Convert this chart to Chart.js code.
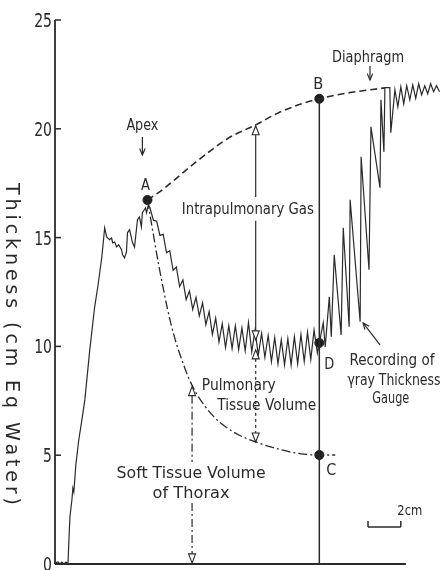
<!DOCTYPE html>
<html lang="en">
<head>
<meta charset="UTF-8">
<title>Thickness</title>
<script src="https://cdn.jsdelivr.net/npm/chart.js"></script>
<style>
  html, body { margin: 0; padding: 0; background: #fff; }
</style>
</head>
<body>
<canvas id="grafico" width="445" height="570"></canvas>
<script>
// x em cm ao longo do torax, y = espessura (cm Eq Water)
var yTicks = [0, 5, 10, 15, 20, 25];

// registro do medidor de espessura (raio gama)
var traceX = [0, 0.18, 0.30, 0.42, 0.55, 0.67, 0.79, 0.85, 0.91, 1.03, 1.09, 1.15, 1.27, 1.45, 1.64, 1.82, 2.12, 2.42, 2.61, 2.85, 3.03,
  3.15, 3.33, 3.45, 3.52, 3.64, 3.76, 3.88, 4.06, 4.12, 4.24, 4.36, 4.42, 4.55, 4.73, 4.85, 5.03, 5.15, 5.27, 5.33, 5.52, 5.58, 5.70,
  5.8, 6.0, 6.2, 6.4, 6.6, 6.8, 7.0, 7.2, 7.4, 7.6, 7.8, 8.0, 8.2, 8.4, 8.6, 8.8, 9.0, 9.2, 9.4, 9.6, 9.8, 10.0,
  10.2, 10.4, 10.6, 10.8, 11.0, 11.2, 11.4, 11.6, 11.8, 12.0, 12.2, 12.4, 12.6, 12.8, 13.0, 13.2, 13.4, 13.6, 13.8, 14.0,
  14.2, 14.4, 14.6, 14.8, 15.0, 15.2, 15.4, 15.6, 15.8, 16.0,
  16.12, 16.36, 16.48, 16.73, 16.85, 17.03, 17.45, 17.58, 17.94, 18.0, 18.61, 18.67, 19.15, 19.27, 19.82, 19.88, 20.06, 20.12,
  20.42, 20.48, 20.73, 20.91, 21.09, 21.27, 21.45, 21.64, 21.82, 22.0, 22.18, 22.36, 22.55, 22.73, 22.91, 23.09, 23.27, 23.45];
var traceY = [0.05, 0.09, 0, 0.09, 0, 0.09, 0, 1.10, 2.16, 2.94, 3.49, 3.31, 4.55, 5.70, 6.62, 7.54, 9.84, 11.82, 12.74, 14.07, 15.45,
  15.03, 14.90, 14.99, 14.76, 14.80, 14.57, 14.67, 14.44, 14.21, 14.07, 14.34, 15.22, 15.36, 14.76, 14.57, 15.82, 15.95, 15.49, 16.14, 16.37, 16.14, 16.51,
  16.35, 15.8, 15.75, 15.1, 15.15, 14.3, 14.4, 13.5, 13.65, 12.75, 13.05, 12.15, 12.55, 11.7, 12.25, 11.4, 12.0, 11.0, 11.6, 10.55, 11.3, 10.2,
  11.05, 9.95, 10.95, 9.9, 10.95, 9.85, 10.85, 9.8, 11.1, 9.75, 10.75, 9.6, 10.6, 9.5, 10.5, 9.3, 10.4, 9.2, 10.3, 9.15,
  10.35, 9.15, 10.45, 9.2, 10.55, 9.3, 10.65, 9.4, 10.75, 9.7,
  10.16, 11.08, 9.98, 12.28, 10.44, 14.21, 10.53, 15.45, 10.90, 16.74, 11.13, 18.71, 13.52, 20.09, 17.29, 21.33, 18.94, 21.89,
  21.89, 19.82, 21.79, 21.01, 21.93, 21.15, 21.98, 21.33, 22.02, 21.40, 22.07, 21.56, 21.98, 21.61, 22.07, 21.70, 21.98, 21.70];

// curva tracejada A -> B (gas intrapulmonar)
var gasX = [5.64, 6.55, 7.58, 8.61, 9.64, 10.61, 12.24, 13.64, 14.85, 16.12, 17.88, 20.12];
var gasY = [16.73, 17.20, 17.84, 18.48, 19.08, 19.59, 20.18, 20.74, 21.10, 21.38, 21.65, 21.88];

// curva traco-ponto A -> C (tecido mole)
var softX = [5.64, 5.88, 6.12, 6.36, 6.61, 6.85, 7.09, 7.39, 7.76, 8.18, 8.61, 9.09, 9.70, 10.42, 11.21, 12.42, 13.82, 15.03, 16.12, 17.09];
var softY = [16.73, 15.67, 14.61, 13.60, 12.64, 11.76, 10.98, 10.16, 9.33, 8.50, 7.86, 7.31, 6.76, 6.30, 5.93, 5.56, 5.24, 5.06, 5.01, 5.01];

var pointNames = ['A', 'B', 'D', 'C'];
var pointX = [5.64, 16.12, 16.12, 16.12];
var pointY = [16.73, 21.38, 10.16, 5.01];

// linha vertical que passa por B, D e C
var chordX = [16.12, 16.12];
var chordY = [21.38, 0];

var xAxisEnd = 21.4;

var tinta = '#2a2a2a';
var fonte = '"DejaVu Sans", "Liberation Sans", sans-serif';

function pares(xs, ys) {
    return xs.map(function (x, i) { return { x: x, y: ys[i] }; });
}

// texto ajustado a uma largura (fonte condensada)
function texto(ctx, t, px, py, size, w) {
    ctx.save();
    ctx.font = size + 'px ' + fonte;
    var m = ctx.measureText(t).width;
    ctx.translate(px, py + size * 0.36);
    ctx.scale(w / m, 1);
    ctx.textAlign = 'center';
    ctx.textBaseline = 'alphabetic';
    ctx.fillStyle = tinta;
    ctx.fillText(t, 0, 0);
    ctx.restore();
}

function linha(ctx, x0, y0, x1, y1, dash, lw) {
    ctx.save();
    ctx.setLineDash(dash || []);
    ctx.lineWidth = lw || 1.2;
    ctx.strokeStyle = tinta;
    ctx.beginPath();
    ctx.moveTo(x0, y0);
    ctx.lineTo(x1, y1);
    ctx.stroke();
    ctx.restore();
}

// ponta em V, com a ponta em (x1, y1)
function seta(ctx, x0, y0, x1, y1) {
    linha(ctx, x0, y0, x1, y1);
    var a = Math.atan2(y1 - y0, x1 - x0);
    var L = 7, ab = 0.4;
    ctx.save();
    ctx.strokeStyle = tinta;
    ctx.lineWidth = 1.2;
    ctx.beginPath();
    ctx.moveTo(x1 - L * Math.cos(a - ab), y1 - L * Math.sin(a - ab));
    ctx.lineTo(x1, y1);
    ctx.lineTo(x1 - L * Math.cos(a + ab), y1 - L * Math.sin(a + ab));
    ctx.stroke();
    ctx.restore();
}

// triangulo aberto; dir = -1 aponta para cima, 1 para baixo
function pontaAberta(ctx, px, py, dir) {
    var h = 9, w = 3.5;
    ctx.save();
    ctx.strokeStyle = tinta;
    ctx.lineWidth = 1.1;
    ctx.fillStyle = '#fff';
    ctx.beginPath();
    ctx.moveTo(px, py);
    ctx.lineTo(px - w, py - dir * h);
    ctx.lineTo(px + w, py - dir * h);
    ctx.closePath();
    ctx.fill();
    ctx.stroke();
    ctx.restore();
}

var desenhos = {
    id: 'desenhos',
    afterDatasetsDraw: function (chart) {
        var ctx = chart.ctx;
        var sx = chart.scales.x, sy = chart.scales.y;
        var X = function (v) { return sx.getPixelForValue(v); };
        var Y = function (v) { return sy.getPixelForValue(v); };
        var esq = chart.chartArea.left;

        // eixos
        linha(ctx, esq, Y(0), esq, Y(25), [], 1.8);
        linha(ctx, esq, Y(0), X(xAxisEnd), Y(0), [], 2);
        yTicks.forEach(function (v) {
            linha(ctx, esq, Y(v), esq + 6, Y(v), [], 1.5);
            ctx.save();
            ctx.font = '20px ' + fonte;
            var t = String(v);
            ctx.translate(esq - 3, Y(v) + 7);
            ctx.scale(0.7, 1);
            ctx.textAlign = 'right';
            ctx.fillStyle = tinta;
            ctx.fillText(t, 0, 0);
            ctx.restore();
        });

        // titulo do eixo y
        ctx.save();
        ctx.font = '20px ' + fonte;
        ctx.fillStyle = tinta;
        var titulo = 'Thickness (cm Eq Water)';
        var aperto = 0.95;
        var larg = ctx.measureText(titulo).width;
        ctx.letterSpacing = Math.max(0, (322 / aperto - larg) / (titulo.length - 1)).toFixed(2) + 'px';
        ctx.translate(11, 346);
        ctx.rotate(Math.PI / 2);
        ctx.scale(aperto, 1);
        ctx.textAlign = 'center';
        ctx.textBaseline = 'middle';
        ctx.fillText(titulo, 0, 0);
        ctx.restore();

        // rotulos
        var rotulos = [
            ['Apex', 5.33, 20.18, 15, 32],
            ['A', 5.52, 17.43, 15, 9],
            ['B', 16.06, 22.07, 15, 10],
            ['Diaphragm', 19.09, 23.31, 15, 72],
            ['Intrapulmonary Gas', 11.76, 16.32, 15, 132],
            ['Pulmonary', 11.21, 8.23, 15, 74],
            ['Tissue Volume', 12.91, 7.31, 15, 99],
            ['Soft Tissue Volume', 8.30, 4.18, 15, 149],
            ['of Thorax', 8.30, 3.26, 15, 77],
            ['D', 16.73, 9.20, 15, 10],
            ['C', 16.85, 4.32, 15, 10],
            ['Recording of', 20.55, 9.38, 15, 85],
            ['γray Thickness', 20.67, 8.46, 15, 93],
            ['Gauge', 20.48, 7.63, 15, 37],
            ['2cm', 21.64, 2.48, 14, 25]
        ];
        rotulos.forEach(function (r) { texto(ctx, r[0], X(r[1]), Y(r[2]), r[3], r[4]); });

        // setas Apex e Diaphragm
        seta(ctx, X(5.33), Y(19.62), X(5.33), Y(18.80));
        seta(ctx, X(19.21), Y(22.89), X(19.21), Y(22.24));

        // seta do registro
        seta(ctx, X(19.82), Y(10.07), X(18.79), Y(11.08));

        // gas intrapulmonar
        var gx = X(12.24);
        linha(ctx, gx, Y(16.87), gx, Y(20.14) + 9);
        pontaAberta(ctx, gx, Y(20.14), -1);
        linha(ctx, gx, Y(15.77), gx, Y(10.3) - 9);
        pontaAberta(ctx, gx, Y(10.3), 1);

        // volume de tecido pulmonar
        linha(ctx, gx, Y(9.84) + 9, gx, Y(5.61) - 9, [3, 3]);
        pontaAberta(ctx, gx, Y(9.84), -1);
        pontaAberta(ctx, gx, Y(5.61), 1);

        // volume de tecido mole do torax
        var tx = X(8.36);
        linha(ctx, tx, Y(8.15) + 9, tx, Y(4.69), [8, 3, 2, 3]);
        pontaAberta(ctx, tx, Y(8.15), -1);
        linha(ctx, tx, Y(2.80), tx, Y(0.05) - 9, [8, 3, 2, 3]);
        pontaAberta(ctx, tx, Y(0.05), 1);

        // escala de 2 cm
        linha(ctx, X(19.09), Y(1.70), X(21.09), Y(1.70), [], 1.5);
        linha(ctx, X(19.09), Y(1.70), X(19.09), Y(1.98), [], 1.5);
        linha(ctx, X(21.09), Y(1.70), X(21.09), Y(1.98), [], 1.5);
    }
};

var ctx = document.getElementById('grafico');

new Chart(ctx, {
    type: 'scatter',
    data: {
        datasets: [{
            label: 'Recording of γray Thickness Gauge',
            data: pares(traceX, traceY),
            showLine: true,
            borderColor: tinta,
            borderWidth: 1.2,
            pointRadius: 0,
            tension: 0,
            clip: false
        },
        {
            label: 'Intrapulmonary Gas',
            data: pares(gasX, gasY),
            showLine: true,
            borderColor: tinta,
            borderWidth: 1.6,
            borderDash: [7, 4],
            pointRadius: 0,
            cubicInterpolationMode: 'monotone',
            clip: false
        },
        {
            label: 'Soft Tissue Volume of Thorax',
            data: pares(softX, softY),
            showLine: true,
            borderColor: tinta,
            borderWidth: 1.3,
            borderDash: [9, 3, 2, 3],
            pointRadius: 0,
            cubicInterpolationMode: 'monotone',
            clip: false
        },
        {
            label: 'B-C',
            data: pares(chordX, chordY),
            showLine: true,
            borderColor: tinta,
            borderWidth: 1.5,
            pointRadius: 0,
            clip: false
        },
        {
            label: pointNames.join(' '),
            data: pares(pointX, pointY),
            showLine: false,
            pointRadius: 4.5,
            pointBackgroundColor: '#1e1e1e',
            pointBorderColor: '#1e1e1e',
            clip: false
        }]
    },
    options: {
        responsive: false,
        animation: false,
        devicePixelRatio: 1,
        layout: { padding: { left: 0, top: 20, right: 3, bottom: 6 } },
        plugins: { legend: { display: false }, tooltip: { enabled: false } },
        scales: {
            x: { type: 'linear', min: 0, max: 23.45, display: false },
            y: {
                type: 'linear', min: 0, max: 25,
                grid: { display: false, drawTicks: false },
                border: { display: false },
                ticks: { display: false },
                afterFit: function (s) { s.width = 55; }
            }
        }
    },
    plugins: [desenhos]
});
</script>
</body>
</html>
